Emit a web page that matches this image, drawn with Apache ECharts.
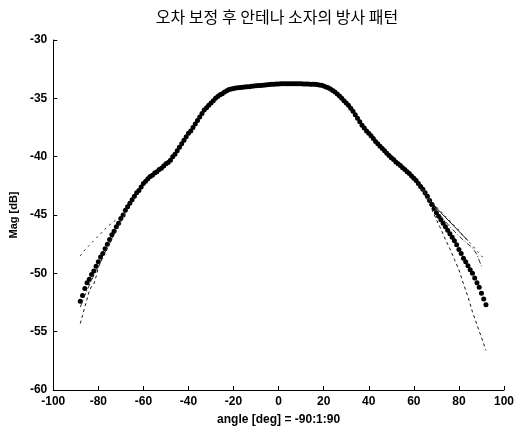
<!DOCTYPE html>
<html>
<head>
<meta charset="utf-8">
<script src="https://cdn.jsdelivr.net/npm/echarts@6/dist/echarts.min.js"></script>
<style>html,body{margin:0;padding:0;background:#fff}#c{width:518px;height:431px}</style>
</head>
<body>
<div id="c"></div>
<script>
const titleText = '오차 보정 후 안테나 소자의 방사 패턴';
const xLabel = 'angle [deg] = -90:1:90';
const yLabel = 'Mag [dB]';
const xTicks = [-100, -80, -60, -40, -20, 0, 20, 40, 60, 80, 100];
const yTicks = [-60, -55, -50, -45, -40, -35, -30];

// main measured pattern, angles -88..92 step 1
const mainStart = -88;
const mainValues = [
 -52.4,-51.9,-51.3,-50.8,-50.5,-50.1,-49.8,-49.4,-49.0,-48.6,
 -48.3,-47.9,-47.5,-47.1,-46.7,-46.4,-46.0,-45.7,-45.3,-45.0,
 -44.6,-44.3,-44.0,-43.7,-43.4,-43.1,-42.9,-42.6,-42.3,-42.1,
 -41.9,-41.7,-41.6,-41.4,-41.3,-41.1,-41.0,-40.8,-40.6,-40.5,
 -40.3,-40.0,-39.8,-39.5,-39.2,-38.9,-38.6,-38.3,-38.0,-37.8,
 -37.5,-37.2,-36.9,-36.6,-36.3,-36.0,-35.8,-35.6,-35.4,-35.2,
 -35.0,-34.85,-34.7,-34.6,-34.45,-34.35,-34.25,-34.2,-34.15,-34.12,
 -34.1,-34.08,-34.05,-34.03,-34.0,-34.0,-33.97,-33.95,-33.93,-33.9,
 -33.9,-33.88,-33.85,-33.83,-33.82,-33.8,-33.8,-33.78,-33.77,-33.75,
 -33.75,-33.74,-33.74,-33.75,-33.75,-33.74,-33.75,-33.75,-33.76,-33.77,
 -33.78,-33.78,-33.79,-33.8,-33.8,-33.82,-33.85,-33.88,-33.95,-34.02,
 -34.1,-34.2,-34.32,-34.45,-34.62,-34.8,-35.0,-35.2,-35.4,-35.6,
 -35.85,-36.1,-36.4,-36.7,-37.0,-37.3,-37.55,-37.8,-38.0,-38.2,
 -38.45,-38.7,-38.9,-39.1,-39.3,-39.5,-39.7,-39.9,-40.1,-40.25,
 -40.45,-40.6,-40.75,-40.95,-41.1,-41.3,-41.45,-41.65,-41.85,-42.05,
 -42.3,-42.55,-42.8,-43.1,-43.4,-43.75,-44.1,-44.45,-44.8,-45.1,
 -45.4,-45.7,-46.0,-46.3,-46.6,-46.9,-47.2,-47.55,-47.95,-48.3,
 -48.7,-49.0,-49.35,-49.7,-50.0,-50.4,-50.8,-51.2,-51.7,-52.2,
 -52.7
];

// other element patterns (visible only in the tails; centre hidden under main curve)
const lowerX = [-88,-87,-86,-85,-84,-83,-82,-81,-80,-78,-76,-74,-72,-70,-68,-66,-64,null,60,62,64,66,68,70,72,74,76,78,80,82,84,86,88,90,92];
const lowerY = [-54.3,-53.6,-52.9,-52.2,-51.5,-51.1,-50.9,-50.3,-49.5,-48.6,-47.8,-47.0,-46.2,-45.4,-44.7,-44.0,-43.4,null,-41.85,-42.4,-43.0,-43.7,-44.5,-45.4,-46.2,-47.1,-47.9,-48.8,-49.7,-50.9,-52.0,-53.3,-54.4,-55.5,-56.6];
const upperX = [-88,-86,-84,-82,-80,-78,-76,-74,-72,-70,-68,-66,-64,null,62,66,70,72,74,76,78,80,82,84,86,88,90,91];
const upperY = [-48.5,-48.0,-47.6,-47.2,-46.8,-46.4,-46.0,-45.7,-45.4,-45.1,-44.7,-44.1,-43.5,null,-42.3,-43.3,-44.3,-44.7,-45.1,-45.5,-45.9,-46.3,-46.8,-47.2,-47.6,-48.1,-48.5,-48.7];
const solidX = [62,66,70,72,74,76,78,80,82,84];
const solidY = [-42.3,-43.4,-44.4,-44.8,-45.2,-45.6,-46.0,-46.4,-46.8,-47.2];
const dashDotX = [-88,-86,-84,-82,-80,-78,-76,-74,-72,-70,-68,null,64,68,72,76,80,84,86,88,90];
const dashDotY = [-52.9,-51.9,-51.0,-50.2,-49.4,-48.6,-47.8,-47.1,-46.3,-45.6,-44.8,null,-42.8,-44.0,-45.1,-46.0,-46.8,-47.5,-47.8,-48.4,-49.4];

function pairs(xs, ys) { return xs.map((x, i) => x === null ? [null, null] : [x, ys[i]]); }
const mainData = mainValues.map((v, i) => [mainStart + i, v]);

const font = 'Liberation Sans, Arial, sans-serif';
const chart = echarts.init(document.getElementById('c'), null, {renderer: 'canvas'});
chart.setOption({
  backgroundColor: '#fff',
  animation: false,
  title: {
    text: titleText, left: 272, top: 4, textAlign: 'center',
    textStyle: {fontFamily: 'Noto Sans CJK KR', fontSize: 16, fontWeight: 'normal', color: '#000'}
  },
  grid: {left: 51, right: 14, top: 40, bottom: 38},
  xAxis: {
    type: 'value', min: -100, max: 100, interval: 20,
    name: xLabel, nameLocation: 'middle', nameGap: 24,
    nameTextStyle: {fontFamily: font, fontSize: 12, fontWeight: 'bold', color: '#000'},
    axisLine: {show: true, onZero: false, lineStyle: {color: '#000', width: 1}},
    axisTick: {show: true, inside: true, length: 4, lineStyle: {color: '#000'}},
    axisLabel: {fontFamily: font, fontSize: 12, fontWeight: 'bold', color: '#000', margin: 6,
      formatter: v => xTicks.includes(v) ? String(v) : ''},
    splitLine: {show: false}
  },
  yAxis: {
    type: 'value', min: -60, max: -30, interval: 5,
    name: yLabel, nameLocation: 'middle', nameGap: 34, nameRotate: 90,
    nameTextStyle: {fontFamily: font, fontSize: 11, fontWeight: 'bold', color: '#000'},
    axisLine: {show: true, onZero: false, lineStyle: {color: '#000', width: 1}},
    axisTick: {show: true, inside: true, length: 4, lineStyle: {color: '#000'}},
    axisLabel: {fontFamily: font, fontSize: 12, fontWeight: 'bold', color: '#000', margin: 6,
      formatter: v => yTicks.includes(v) ? String(v) : ''},
    splitLine: {show: false}
  },
  series: [
    {type: 'line', data: pairs(lowerX, lowerY), showSymbol: false, connectNulls: false,
      lineStyle: {color: '#111', width: 1, type: [3, 3]}},
    {type: 'line', data: pairs(upperX, upperY), showSymbol: false, connectNulls: false,
      lineStyle: {color: '#222', width: 1, type: [2, 4]}},
    {type: 'line', data: pairs(solidX, solidY), showSymbol: false,
      lineStyle: {color: '#111', width: 1}},
    {type: 'line', data: pairs(dashDotX, dashDotY), showSymbol: false, connectNulls: false,
      lineStyle: {color: '#333', width: 1, type: [5, 2, 1, 2]}},
    {type: 'scatter', data: mainData, symbol: 'circle', symbolSize: 5,
      itemStyle: {color: '#000', opacity: 1}}
  ]
});
</script>
</body>
</html>
